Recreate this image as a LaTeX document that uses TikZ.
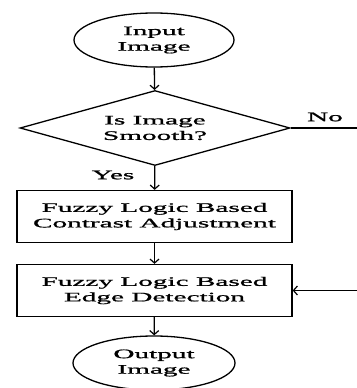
\documentclass[tikz,border=0pt]{standalone}
\usepackage{fontspec}
\setmainfont{Liberation Serif}[FakeStretch=2.25,FakeBold=1.2]
\usetikzlibrary{shapes.geometric,arrows.meta}
\begin{document}
\begin{tikzpicture}[x=1pt,y=-1pt,
  every node/.style={font=\fontsize{13pt}{15.5pt}\selectfont, align=center, inner sep=0pt},
  term/.style={draw, ellipse, line width=1.3pt, minimum width=160pt, minimum height=54pt},
  decide/.style={draw, diamond, line width=1.3pt, aspect=3.6, minimum width=270pt, minimum height=75pt},
  proc/.style={draw, rectangle, line width=1.3pt, minimum width=275pt, minimum height=52pt},
  link/.style={line width=1.3pt, -{Straight Barb[length=4pt,width=9pt,line width=1.2pt]}},
  plain/.style={line width=1.3pt}]
\useasboundingbox (0,0) rectangle (356,388);
\node[term] (in) at (154,40) {Input\\Image};
\node[decide] (dec) at (155,128) {Is Image\\Smooth?};
\node[proc] (p1) at (154.5,216.5) {Fuzzy Logic Based\\Contrast Adjustment};
\node[proc] (p2) at (154.5,290.5) {Fuzzy Logic Based\\Edge Detection};
\node[term, minimum width=162pt] (out) at (154,363) {Output\\Image};
\coordinate (nr) at (358,128);
\coordinate (er) at (358,290.5);
\node (no) at (325,117) {No};
\node (yes) at (113,175) {Yes};
\draw[link] (in) -- (dec);
\draw[link] (dec) -- (p1);
\draw[link] (p1) -- (p2);
\draw[link] (p2) -- (out);
\draw[plain] (dec.east) -- (nr);
\draw[link] (er) -- (p2.east);
\end{tikzpicture}
\end{document}
